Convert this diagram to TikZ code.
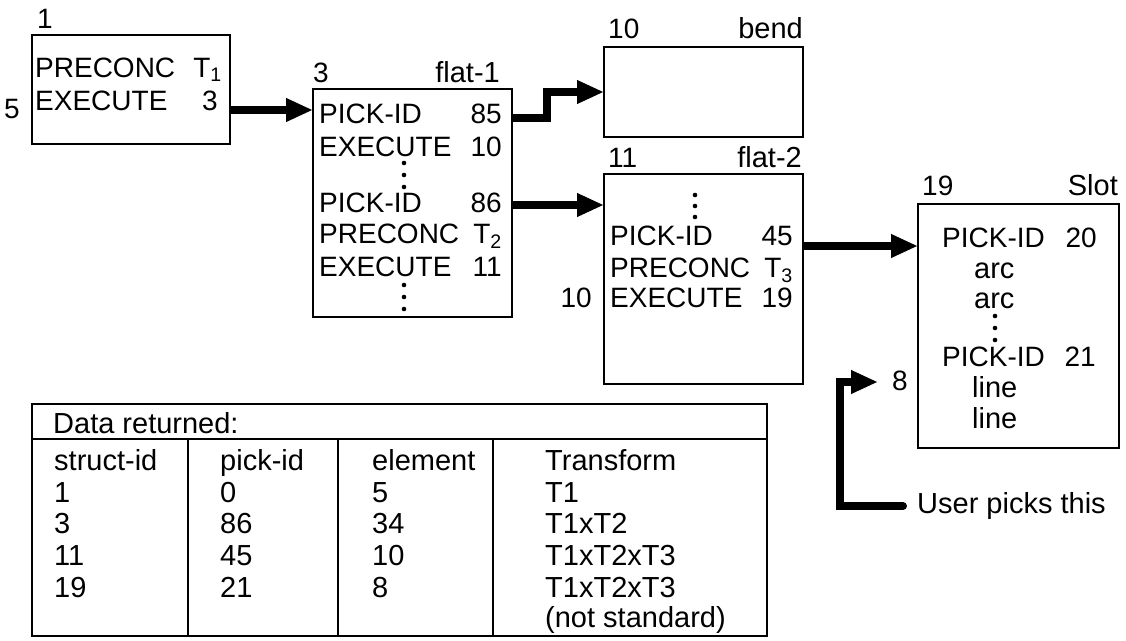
\documentclass[tikz,border=0pt]{standalone}
\usepackage{fontspec}
\setmainfont{Liberation Sans}
\usepackage{tikz}
\usetikzlibrary{arrows.meta}

\begin{document}
\begin{tikzpicture}[x=1pt, y=-1pt,
    font=\fontsize{28}{32}\selectfont,
    box/.style={draw, line width=1.8pt, inner sep=0pt, outer sep=0pt, anchor=north west},
    lt/.style={anchor=base west, inner sep=0pt},
    rt/.style={anchor=base east, inner sep=0pt},
    wide/.style={font=\fontsize{29}{33}\selectfont},
    bigarrow/.style={line width=7.5pt, -{Triangle[length=27pt, width=22pt]}}]
        \useasboundingbox (0,0) rectangle (1126,640);

        % Structure 1
        \node[box, minimum width=198pt, minimum height=109pt] (b1) at (32,35) {};
        \node[lt] (n1) at (37,28) {1};
        \node[lt] (b1r1) at (35,77) {PRECONC};
        \node[rt] (b1v1) at (222,77) {T\textsubscript{1}};
        \node[lt] (b1r2) at (35,110) {EXECUTE};
        \node[rt] (b1v2) at (218,110) {3};
        \node[rt] (e5) at (20,118) {5};

        % Structure 3, flat-1
        \node[box, minimum width=199pt, minimum height=228pt] (b3) at (313,89) {};
        \node[lt] (n3) at (313,82) {3};
        \node[rt, wide] (t3) at (500,82) {flat-1};
        \node[lt] (b3r1) at (319,123) {PICK-ID};
        \node[rt] (b3v1) at (502,123) {85};
        \node[lt] (b3r2) at (319,156) {EXECUTE};
        \node[rt] (b3v2) at (502,156) {10};
        \node[lt] (b3r3) at (319,212) {PICK-ID};
        \node[rt] (b3v3) at (502,212) {86};
        \node[lt] (b3r4) at (319,243) {PRECONC};
        \node[rt] (b3v4) at (502,243) {T\textsubscript{2}};
        \node[lt] (b3r5) at (319,276) {EXECUTE};
        \node[rt] (b3v5) at (502,276) {11};
        \foreach \y in {163,175,187,285,297,309}
            \fill (404,\y) circle (2.3pt);

        % Structure 10, bend
        \node[box, minimum width=199pt, minimum height=90pt] (b10) at (604,47) {};
        \node[lt] (n10) at (608,38) {10};
        \node[rt, wide] (t10) at (803,38) {bend};

        % Structure 11, flat-2
        \node[box, minimum width=199pt, minimum height=210pt] (b11) at (604,174) {};
        \node[lt] (n11) at (608,167) {11};
        \node[rt, wide] (t11) at (802,167) {flat-2};
        \node[lt] (b11r1) at (610,245) {PICK-ID};
        \node[rt] (b11v1) at (793,245) {45};
        \node[lt] (b11r2) at (610,277) {PRECONC};
        \node[rt] (b11v2) at (793,277) {T\textsubscript{3}};
        \node[lt] (b11r3) at (610,307) {EXECUTE};
        \node[rt] (b11v3) at (793,307) {19};
        \node[rt] (e10) at (592,307) {10};
        \foreach \y in {195,206,217}
            \fill (695,\y) circle (2.3pt);

        % Structure 19, Slot
        \node[box, minimum width=201pt, minimum height=244pt] (b19) at (918,204) {};
        \node[lt] (n19) at (922,195) {19};
        \node[rt, wide] (t19) at (1118,195) {Slot};
        \node[lt] (b19r1) at (942,247) {PICK-ID};
        \node[rt] (b19v1) at (1097,247) {20};
        \node[lt, wide] (b19r2) at (974,278) {arc};
        \node[lt, wide] (b19r3) at (974,308) {arc};
        \node[lt] (b19r4) at (942,366) {PICK-ID};
        \node[rt] (b19v4) at (1096,366) {21};
        \node[lt, wide] (b19r5) at (972,397) {line};
        \node[lt, wide] (b19r6) at (972,428) {line};
        \foreach \y in {316,328,340}
            \fill (995,\y) circle (2.3pt);
        \node[lt] (e8) at (892,390) {8};
        \node[lt, wide] (pick) at (917,513) {User picks this};

        % Links
        \draw[bigarrow] (b1.east |- 0,110) -- (b3.west |- 0,110);
        \draw[bigarrow] (b3.east |- 0,118) -| (547,92) -- (b10.west);
        \draw[bigarrow] (b3.east |- 0,205) -- (b11.west |- 0,205);
        \draw[bigarrow] (b11.east |- 0,246) -- (b19.west |- 0,246);
        \coordinate (ptail) at (903,506);
        \coordinate (pcorner) at (840,382);
        \coordinate (ptip) at (878,382);
        \draw[bigarrow, line width=8pt, line cap=round] (ptail) -| (pcorner) -- (ptip);

        % Data returned
        \node[box, minimum width=735pt, minimum height=232pt] (tbl) at (32,404) {};
        \draw[line width=1.8pt] (tbl.west |- 0,439) -- (tbl.east |- 0,439);
        \foreach \x in {188,338,493}
            \draw[line width=1.8pt] (\x,439) -- (tbl.south -| \x,0);
        \begin{scope}[wide]
        \node[lt] (dr) at (53,433) {Data returned:};
        \node[lt] (h1) at (54,470) {struct-id};
        \node[lt] (h2) at (220,470) {pick-id};
        \node[lt] (h3) at (372,470) {element};
        \node[lt] (h4) at (545,470) {Transform};
        \foreach \a/\b/\c/\d/\y in {1/0/5/T1/502, 3/86/34/T1xT2/533,
                11/45/10/T1xT2xT3/565, 19/21/8/T1xT2xT3/597}
        {
            \node[lt] at (54,\y) {\a};
            \node[lt] at (220,\y) {\b};
            \node[lt] at (372,\y) {\c};
            \node[lt] at (545,\y) {\d};
        }
        \node[lt] (ns) at (545,627) {(not standard)};
        \end{scope}
\end{tikzpicture}
\end{document}
